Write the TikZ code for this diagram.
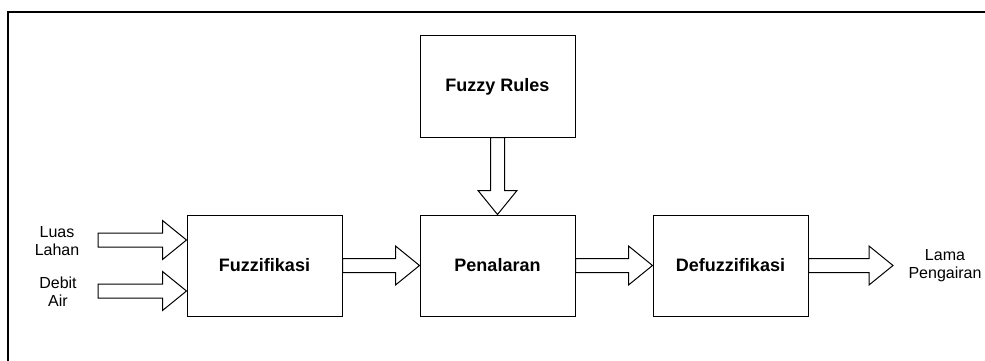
\documentclass[tikz,border=0pt]{standalone}
\usepackage{fontspec}
\setmainfont{Liberation Sans}
\usetikzlibrary{positioning,calc}
\begin{document}
\begin{tikzpicture}[x=1pt, y=-1pt, node distance={77pt}, line width=1pt,
  main/.style = {draw, minimum width=155pt, minimum height=101pt, inner sep=0pt, font=\fontsize{18}{21}\selectfont\bfseries},
  lbl/.style = {align=center, inner sep=0pt, font=\fontsize{16}{18}\selectfont},
  fatarrow/.style = {to path={let \p1=($(\tikztotarget)-(\tikztostart)$), \n1={atan2(\y1,\x1)}, \n2={veclen(\x1,\y1)-24pt} in
    ($(\tikztostart)+(\n1+90:7pt)$) -- ++(\n1:\n2) -- ++(\n1+90:12.5pt) -- (\tikztotarget)
    -- ($(\tikztotarget)+(\n1+180:24pt)+(\n1-90:19.5pt)$) -- ++(\n1+90:12.5pt) -- ++(\n1+180:\n2) -- cycle}}]
\useasboundingbox (0,0) rectangle (985,361);
\draw[line width=1.2pt] (8,361) -- (8,12) -- (985,12);
\node[main] (fuzz) at (264.5,265.5) {Fuzzifikasi};
\node[main] (pen) [right=of fuzz] {Penalaran};
\node[main] (defuz) [right=of pen] {Defuzzifikasi};
\node[main] (rules) [above=of pen] {Fuzzy Rules};
\node[lbl] (luas) at (57,241) {Luas\\Lahan};
\node[lbl] (debit) at (58,292) {Debit\\Air};
\node[lbl] (lama) at (945,266) {Lama\\Pengairan};
\coordinate (in1) at (98,240);
\coordinate (in2) at (98,291);
\coordinate (out) at (893,265.5);
\draw[fatarrow] (in1) to (in1 -| fuzz.west);
\draw[fatarrow] (in2) to (in2 -| fuzz.west);
\draw[fatarrow] (fuzz.east) to (pen.west);
\draw[fatarrow] (pen.east) to (defuz.west);
\draw[fatarrow] (defuz.east) to (out);
\draw[fatarrow] (rules.south) to (pen.north);
\end{tikzpicture}
\end{document}
